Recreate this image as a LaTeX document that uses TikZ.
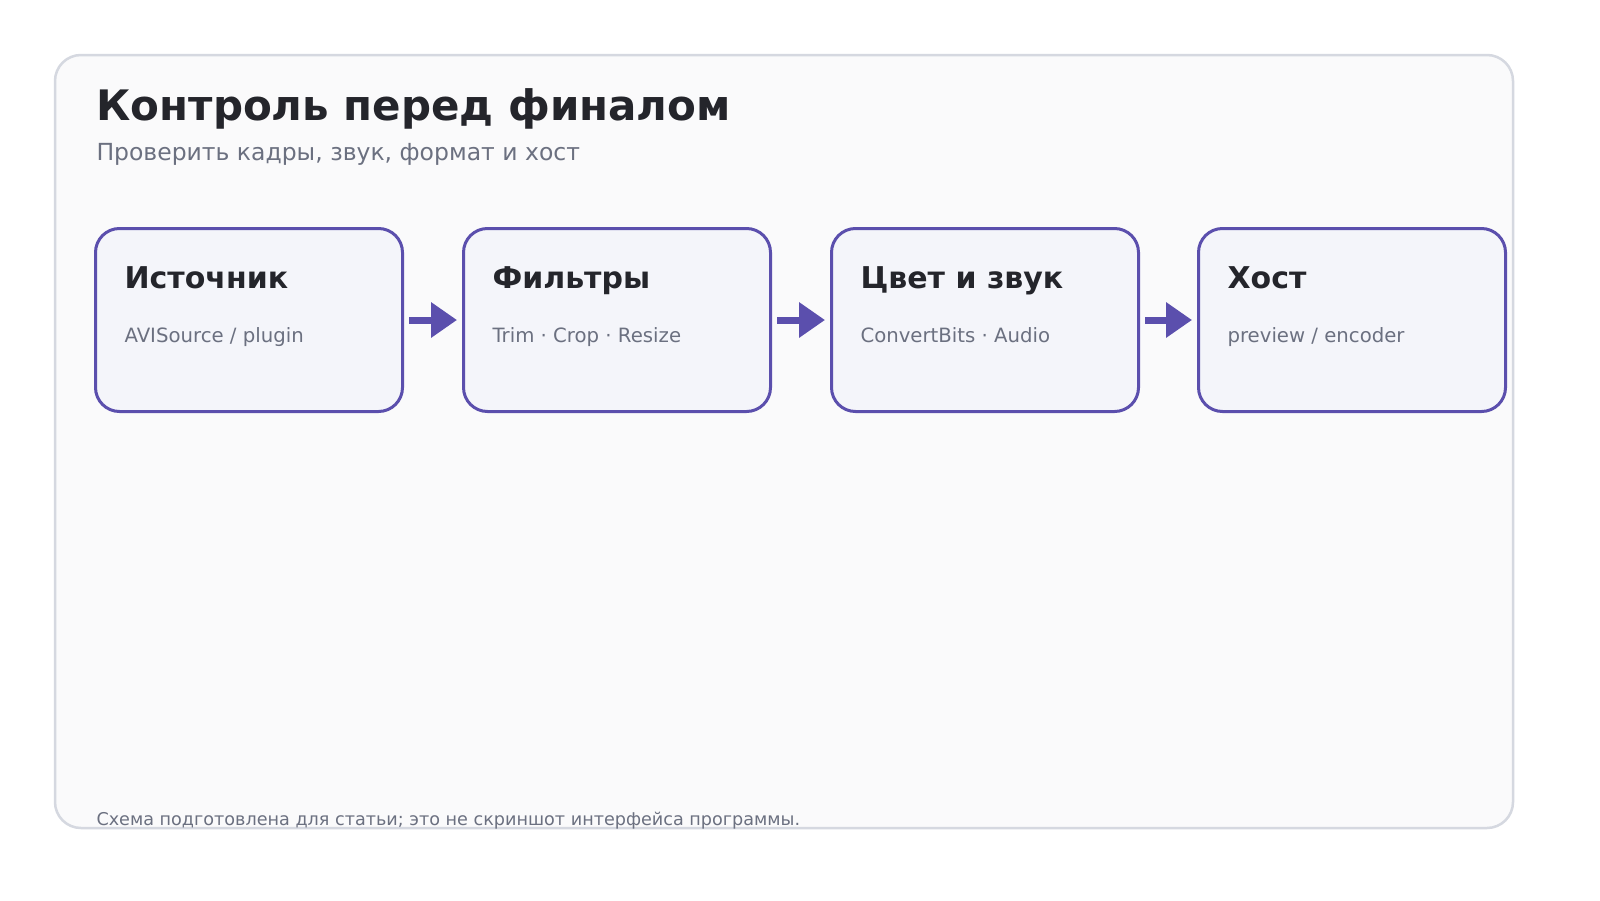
\documentclass[tikz,border=0pt]{standalone}
\usepackage{fontspec}
\setmainfont{DejaVu Sans}
\usetikzlibrary{arrows.meta}
\definecolor{ink}{HTML}{24252B}
\definecolor{muted}{HTML}{6B7080}
\definecolor{accent}{HTML}{5B4FAD}
\definecolor{cardline}{HTML}{D5D8E0}
\definecolor{cardfill}{HTML}{FAFAFB}
\definecolor{boxfill}{HTML}{F4F5FA}
\tikzset{
  stage/.style={draw=accent,line width=3bp,fill=boxfill,rounded corners=24bp,minimum width=307bp,minimum height=183bp,anchor=north west,inner sep=0},
  stitle/.style={anchor=base west,font=\fontsize{30bp}{34bp}\selectfont\bfseries,text=ink},
  ssub/.style={anchor=base west,font=\fontsize{19.7bp}{23bp}\selectfont,text=muted},
  flow/.style={draw=accent,line width=7bp,-{Triangle[length=26bp,width=34bp]},shorten <=5bp,shorten >=5bp}
}
\begin{document}
\begin{tikzpicture}[x=1bp,y=-1bp]
\useasboundingbox[fill=white] (0,0) rectangle (1600,900);
\draw[cardline,line width=2.5bp,fill=cardfill,rounded corners=26bp] (55,55) rectangle (1513,828);
\node[anchor=base west,font=\fontsize{42bp}{46bp}\selectfont\bfseries,text=ink] (title) at (93,120) {Контроль перед финалом};
\node[anchor=base west,font=\fontsize{23.5bp}{27bp}\selectfont,text=muted] (sub) at (93,160) {Проверить кадры, звук, формат и хост};
\node[stage] (a) at (94,227) {};
\node[stage] (b) at (462,227) {};
\node[stage] (c) at (830,227) {};
\node[stage] (d) at (1197,227) {};
\foreach \n/\t/\s in {a/Источник/{AVISource / plugin},b/Фильтры/{Trim · Crop · Resize},c/Цвет и звук/{ConvertBits · Audio},d/Хост/{preview / encoder}}{
  \node[stitle] (\n t) at ([xshift=27bp,yshift=-61bp]\n.north west) {\t};
  \node[ssub] (\n s) at ([xshift=27bp,yshift=-115bp]\n.north west) {\s};
}
\draw[flow] (a.east) -- (b.west);
\draw[flow] (b.east) -- (c.west);
\draw[flow] (c.east) -- (d.west);
\node[anchor=base west,font=\fontsize{17.6bp}{20bp}\selectfont,text=muted] (foot) at (93,825) {Схема подготовлена для статьи; это не скриншот интерфейса программы.};
\end{tikzpicture}
\end{document}
